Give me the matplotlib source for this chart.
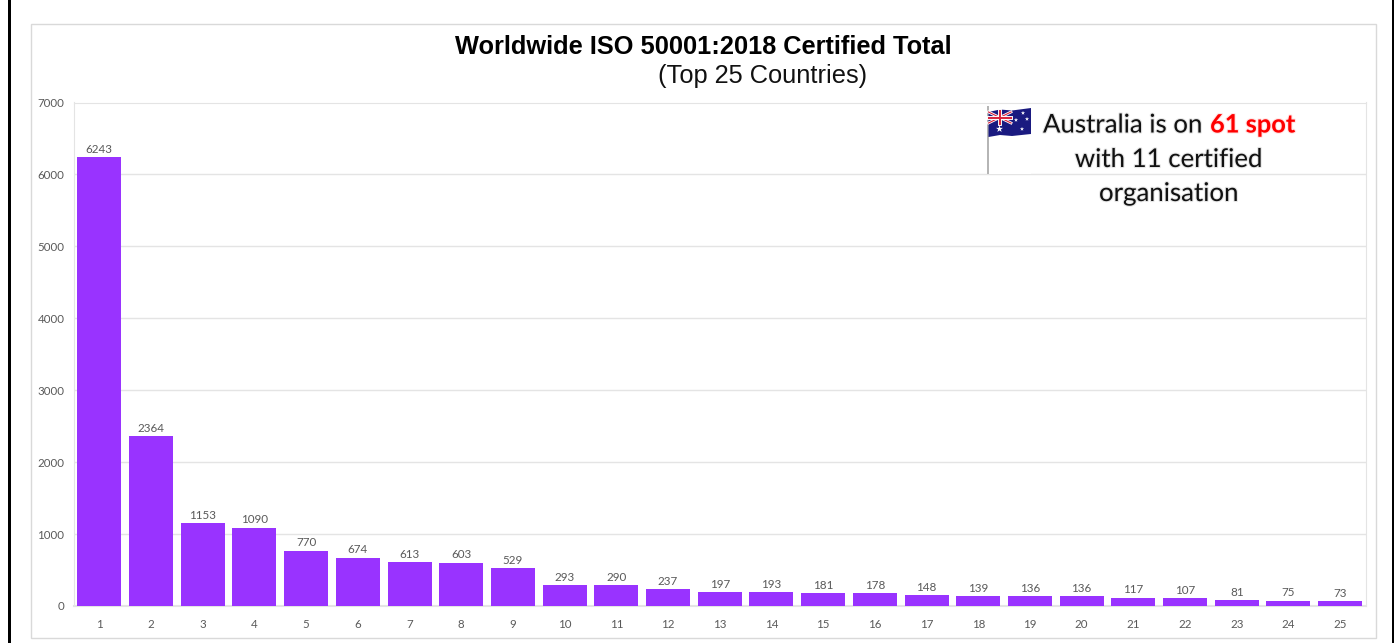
import matplotlib
matplotlib.use("Agg")
import matplotlib.pyplot as plt
import matplotlib.patheffects as pe
from matplotlib.patches import Rectangle, Polygon

W, H = 1394, 643

# values
ranks = list(range(1, 26))
certified = [6243, 2364, 1153, 1090, 770, 674, 613, 603, 529, 293, 290, 237, 197,
             193, 181, 178, 148, 139, 136, 136, 117, 107, 81, 75, 73]
yticks = [0, 1000, 2000, 3000, 4000, 5000, 6000, 7000]

title = "Worldwide ISO 50001:2018 Certified Total"
subtitle = "(Top 25 Countries)"

PURPLE = "#9933ff"
GRID = "#e4e4e4"
GREY = "#595959"
SMALL_FONT = ["Lato", "DejaVu Sans"]
NOTE_FONT = ["Lato", "DejaVu Sans"]

fig = plt.figure(figsize=(W / 100, H / 100), dpi=100, facecolor="white")

# plot area in pixels
left, right, top, bottom = 73.5, 1366, 102.5, 606
ax = fig.add_axes([left / W, 1 - bottom / H, (right - left) / W, (bottom - top) / H])
bars = ax.bar(ranks, certified, width=0.85, color=PURPLE, zorder=3)
ax.set_xlim(0.5, 25.5)
ax.set_ylim(0, 7000)
ax.set_xticks(ranks)
ax.set_yticks(yticks)
ax.grid(axis="y", color=GRID, lw=1, zorder=0)
ax.tick_params(length=0, labelsize=8.3, labelcolor=GREY)
ax.tick_params(axis="x", pad=9)
ax.tick_params(axis="y", pad=6.5)
for lab in ax.get_xticklabels() + ax.get_yticklabels():
    lab.set_family(SMALL_FONT)
for spine in ax.spines.values():
    spine.set_color(GRID)
ax.spines["bottom"].set_linewidth(1.5)
ax.bar_label(bars, labels=[str(v) for v in certified], padding=1.6, fontsize=8.4,
             color=GREY, family=SMALL_FONT)

# overlay in pixel coordinates: frames, headings, flag, note
ov = fig.add_axes([0, 0, 1, 1], zorder=5)
ov.set_xlim(0, W)
ov.set_ylim(H, 0)
ov.axis("off")
ov.patch.set_alpha(0)

ov.add_patch(Rectangle((31, 23.5), 1344.5, 614.5, fill=False, ec="#d9d9d9", lw=1))
ov.add_patch(Rectangle((8, 0), 2.5, H, fc="black", ec="none"))
ov.add_patch(Rectangle((1392, 0), 2, H, fc="black", ec="none"))

ov.text(703.5, 46.5, title, family=["Liberation Sans"], weight="bold", fontsize=18.3,
        ha="center", va="center", color="black")
ov.text(762.5, 76, subtitle, family=["Liberation Sans"], fontsize=18.5 * 0.9 * 1.1,
        ha="center", va="center", color="#111111")

# flag: white backing hides the gridline, then pole and cloth
ov.add_patch(Rectangle((988, 106), 43, 68, fc="white", ec="none"))
ov.add_patch(Rectangle((987, 106), 1.6, 68, fc="#b5b5b5", ec="none"))
ov.add_patch(Polygon([(988.5, 112), (1000, 109.5), (1012, 110.5), (1031, 108),
                      (1031, 134), (1012, 136), (1000, 135), (988.5, 137)],
                     fc="#1a1a80", ec="none"))
ov.plot([988.5, 1011], [112, 123], color="white", lw=2)
ov.plot([988.5, 1011], [123, 112], color="white", lw=2)
ov.plot([988.5, 1011], [112, 123], color="#d8203a", lw=0.8)
ov.plot([988.5, 1011], [123, 112], color="#d8203a", lw=0.8)
ov.plot([1000, 1000], [111, 124], color="white", lw=2.8)
ov.plot([988.5, 1011], [117.5, 117.5], color="white", lw=2.8)
ov.plot([1000, 1000], [111, 124], color="#d8203a", lw=1.4)
ov.plot([988.5, 1011], [117.5, 117.5], color="#d8203a", lw=1.4)
ov.scatter([999.5, 1023, 1016, 1027, 1022], [129, 113, 120, 119, 129],
           marker="*", s=[28, 10, 10, 10, 10], color="white", linewidths=0, zorder=4)

soft = [pe.withStroke(linewidth=1.6, foreground="#000000", alpha=0.10)]
soft_red = [pe.withStroke(linewidth=1.6, foreground="#ff0000", alpha=0.10)]
ov.text(1043, 125, "Australia is on", family=NOTE_FONT, fontsize=18.6, va="center",
        color="#111111", path_effects=soft)
ov.text(1210, 125, "61 spot", family=NOTE_FONT, fontsize=18.3, weight="bold", va="center",
        color="#ff0000", path_effects=soft_red)
ov.text(1169, 159.5, "with 11 certified", family=NOTE_FONT, fontsize=18.6, ha="center", va="center",
        color="#111111", path_effects=soft)
ov.text(1169, 193.5, "organisation", family=NOTE_FONT, fontsize=18.6, ha="center", va="center",
        color="#111111", path_effects=soft)

fig.savefig("out.png", dpi=100, facecolor="white")
